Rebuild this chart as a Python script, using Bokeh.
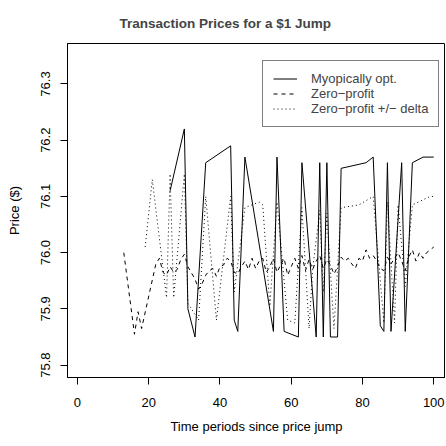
from bokeh.plotting import figure
from bokeh.models import Range1d, FixedTicker, NumeralTickFormatter, Legend, LegendItem
from bokeh.embed import file_html
from bokeh.resources import INLINE

# Myopically optimal price path (vertices)
t_myopic = [26, 30, 31, 33, 36, 43, 44, 45, 47, 55, 56, 58, 62, 63, 67, 68, 69, 70, 71, 73,
            74, 81, 83, 85, 86, 87, 88, 91, 92, 94, 97, 100]
p_myopic = [76.11, 76.22, 75.90, 75.85, 76.16, 76.19, 75.88, 75.86, 76.17, 75.86, 76.17, 75.86,
            75.85, 76.16, 75.85, 76.16, 75.85, 76.16, 75.85, 75.85, 76.15, 76.16, 76.17, 75.87,
            75.86, 76.16, 75.86, 76.16, 75.86, 76.16, 76.17, 76.17]

# Zero-profit price path
t_zero = [13, 16, 17, 18, 22, 23, 24, 25, 26, 27, 28, 29, 30, 31, 33, 34, 35, 36, 37, 38, 39, 40,
          41, 42, 43, 44, 45, 46, 47, 48, 49, 50, 51, 52, 53, 54, 55, 56, 57, 58, 59, 60, 61, 62,
          63, 64, 65, 66, 67, 68, 69, 70, 71, 72, 73, 74, 75, 76, 77, 78, 79, 80, 81, 82, 83, 84,
          85, 86, 87, 88, 89, 90, 91, 92, 93, 94, 95, 96, 97, 98, 99, 100]
p_zero = [76.000, 75.855, 75.895, 75.865, 75.980, 75.990, 75.965, 75.960, 75.975, 75.965, 75.970,
          75.988, 75.997, 75.975, 75.953, 75.935, 75.945, 75.960, 75.968, 75.972, 75.958, 75.975,
          75.978, 75.990, 75.985, 75.965, 75.962, 75.975, 75.985, 75.970, 75.990, 75.972, 75.985,
          75.990, 75.965, 75.975, 75.990, 75.965, 75.978, 75.990, 75.960, 75.975, 75.990, 75.972,
          75.995, 75.968, 75.988, 75.970, 75.985, 75.995, 75.972, 75.988, 75.978, 75.962, 75.975,
          75.992, 75.985, 75.990, 75.980, 75.972, 75.990, 75.985, 76.005, 75.990, 75.995, 75.985,
          75.972, 75.968, 75.992, 75.980, 75.990, 76.000, 75.985, 75.968, 75.992, 76.005, 75.985,
          76.000, 75.990, 76.000, 76.005, 76.010]

# Zero-profit +/- delta price path (vertices)
t_delta = [19, 21, 25, 26, 27, 30, 31, 34, 36, 39, 43, 44, 47, 51, 52, 54, 56, 59, 61, 63, 65,
           66, 68, 69, 70, 72, 74, 79, 83, 86, 87, 89, 90, 92, 94, 99, 100]
p_delta = [76.01, 76.13, 75.92, 76.14, 75.92, 76.14, 75.91, 75.88, 76.10, 75.88, 76.10, 75.93,
           76.08, 76.09, 76.085, 75.905, 76.09, 75.88, 75.875, 76.08, 75.865, 75.97, 76.075,
           75.93, 76.07, 75.865, 76.08, 76.085, 76.10, 75.875, 76.09, 75.875, 76.085, 75.94,
           76.085, 76.10, 76.10]

x_ticks = [0, 20, 40, 60, 80, 100]
y_ticks = [75.8, 75.9, 76.0, 76.1, 76.2, 76.3]
labels = ["Myopically opt.", "Zero\u2212profit", "Zero\u2212profit +/\u2212 delta"]

FONT = "Liberation Sans"

p = figure(width=445, height=440, output_backend="svg", toolbar_location=None,
           x_range=Range1d(-2.8, 103.3), y_range=Range1d(75.778, 76.372),
           min_border_left=67, min_border_right=0, min_border_top=43, min_border_bottom=63,
           background_fill_color="white", border_fill_color="white")

p.title.text = "Transaction Prices for a $1 Jump"
p.title.align = "left"
p.title.offset = 52
p.title.text_font = FONT
p.title.text_font_size = "13.5px"
p.title.text_font_style = "bold"
p.title.text_line_height = 0.7
p.title.standoff = 26

p.xgrid.visible = False
p.ygrid.visible = False
p.outline_line_color = "black"
p.outline_line_width = 1

for ax in (p.xaxis[0], p.yaxis[0]):
    ax.major_tick_in = 0
    ax.major_tick_out = 7
    ax.minor_tick_line_color = None
    ax.axis_line_color = "black"
    ax.major_tick_line_color = "black"
    ax.major_label_text_font = FONT
    ax.major_label_text_font_size = "13px"
    ax.major_label_text_color = "black"
    ax.axis_label_text_font = FONT
    ax.axis_label_text_font_size = "13px"
    ax.axis_label_text_font_style = "normal"
    ax.axis_label_text_color = "black"

p.xaxis.ticker = FixedTicker(ticks=x_ticks)
p.yaxis.ticker = FixedTicker(ticks=y_ticks)
p.yaxis.formatter = NumeralTickFormatter(format="0.0")
p.yaxis.major_label_orientation = "vertical"
p.xaxis.axis_label = "Time periods since price jump"
p.yaxis.axis_label = "Price ($)"
p.xaxis.major_label_standoff = 13
p.xaxis.axis_label_standoff = 9
p.yaxis.major_label_standoff = 10
p.yaxis.axis_label_standoff = 17

r1 = p.line(t_myopic, p_myopic, line_color="black", line_width=1)
r2 = p.line(t_zero, p_zero, line_color="black", line_width=1, line_dash="4 4")
r3 = p.line(t_delta, p_delta, line_color="black", line_width=1, line_dash="1 3")

legend = Legend(items=[LegendItem(label=labels[0], renderers=[r1]),
                       LegendItem(label=labels[1], renderers=[r2]),
                       LegendItem(label=labels[2], renderers=[r3])],
                location=(195, 250), border_line_color="black", border_line_width=1,
                background_fill_color="white", background_fill_alpha=1.0,
                padding=10, spacing=0, glyph_width=24, glyph_height=15, label_height=15,
                label_standoff=14, label_text_font=FONT, label_text_font_size="13px",
                margin=0)
p.add_layout(legend)

open("out.html", "w").write(file_html(p, INLINE))
